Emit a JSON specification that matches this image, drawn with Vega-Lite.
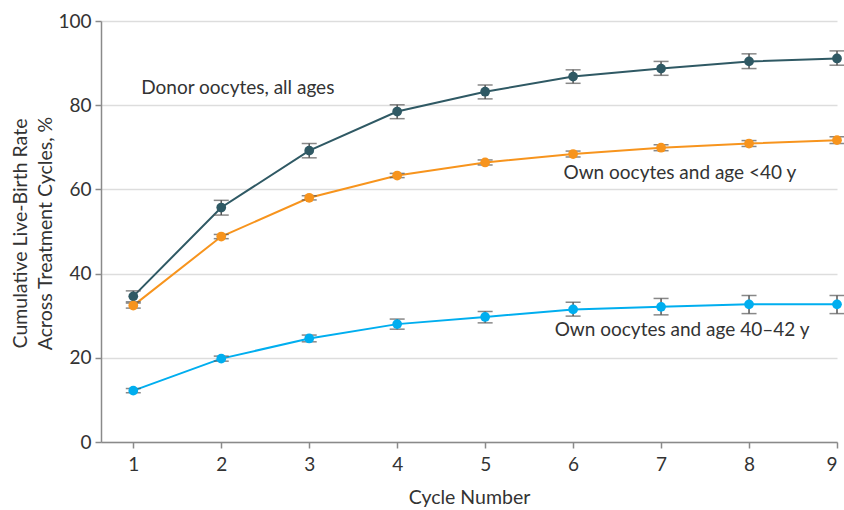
{
  "$schema": "https://vega.github.io/schema/vega-lite/v6.json",
  "autosize": "none",
  "width": 736,
  "height": 421,
  "padding": {"left": 101, "top": 21, "right": 7, "bottom": 68},
  "background": "white",
  "config": {
    "font": "Lato",
    "view": {"stroke": null},
    "axis": {
      "labelFont": "Lato", "titleFont": "Lato",
      "labelFontSize": 19, "titleFontSize": 19.5,
      "labelColor": "#333", "titleColor": "#333",
      "titleFontWeight": "normal",
      "domainColor": "#8a8a8a", "domainWidth": 1.5,
      "tickColor": "#8a8a8a", "tickWidth": 1.5, "tickSize": 6,
      "gridColor": "#dddddd", "gridWidth": 1.5
    }
  },
  "datasets": {
    "series": [
      {"group": "Donor", "cycle": 1, "rate": 34.6, "lo": 33.3, "hi": 35.9},
      {"group": "Donor", "cycle": 2, "rate": 55.7, "lo": 53.9, "hi": 57.4},
      {"group": "Donor", "cycle": 3, "rate": 69.2, "lo": 67.5, "hi": 70.9},
      {"group": "Donor", "cycle": 4, "rate": 78.5, "lo": 76.8, "hi": 80.1},
      {"group": "Donor", "cycle": 5, "rate": 83.2, "lo": 81.5, "hi": 84.8},
      {"group": "Donor", "cycle": 6, "rate": 86.8, "lo": 85.2, "hi": 88.4},
      {"group": "Donor", "cycle": 7, "rate": 88.7, "lo": 87.1, "hi": 90.4},
      {"group": "Donor", "cycle": 8, "rate": 90.4, "lo": 88.7, "hi": 92.2},
      {"group": "Donor", "cycle": 9, "rate": 91.1, "lo": 89.5, "hi": 92.9},
      {"group": "Own<40", "cycle": 1, "rate": 32.4, "lo": 31.8, "hi": 33.0},
      {"group": "Own<40", "cycle": 2, "rate": 48.8, "lo": 48.3, "hi": 49.3},
      {"group": "Own<40", "cycle": 3, "rate": 58.0, "lo": 57.5, "hi": 58.5},
      {"group": "Own<40", "cycle": 4, "rate": 63.3, "lo": 62.8, "hi": 63.8},
      {"group": "Own<40", "cycle": 5, "rate": 66.4, "lo": 65.8, "hi": 67.0},
      {"group": "Own<40", "cycle": 6, "rate": 68.4, "lo": 67.7, "hi": 69.1},
      {"group": "Own<40", "cycle": 7, "rate": 69.9, "lo": 69.2, "hi": 70.6},
      {"group": "Own<40", "cycle": 8, "rate": 70.9, "lo": 70.2, "hi": 71.6},
      {"group": "Own<40", "cycle": 9, "rate": 71.7, "lo": 70.9, "hi": 72.5},
      {"group": "Own40-42", "cycle": 1, "rate": 12.2, "lo": 11.7, "hi": 12.7},
      {"group": "Own40-42", "cycle": 2, "rate": 19.8, "lo": 19.2, "hi": 20.4},
      {"group": "Own40-42", "cycle": 3, "rate": 24.6, "lo": 23.8, "hi": 25.4},
      {"group": "Own40-42", "cycle": 4, "rate": 28.0, "lo": 26.8, "hi": 29.2},
      {"group": "Own40-42", "cycle": 5, "rate": 29.7, "lo": 28.3, "hi": 31.0},
      {"group": "Own40-42", "cycle": 6, "rate": 31.5, "lo": 29.9, "hi": 33.2},
      {"group": "Own40-42", "cycle": 7, "rate": 32.1, "lo": 30.2, "hi": 34.1},
      {"group": "Own40-42", "cycle": 8, "rate": 32.7, "lo": 30.5, "hi": 34.8},
      {"group": "Own40-42", "cycle": 9, "rate": 32.7, "lo": 30.5, "hi": 34.8}
    ],
    "labels": [
      {"cycle": 1.09, "rate": 84.0, "text": "Donor oocytes, all ages"},
      {"cycle": 5.89, "rate": 63.9, "text": "Own oocytes and age <40 y"},
      {"cycle": 5.79, "rate": 26.6, "text": "Own oocytes and age 40–42 y"}
    ]
  },
  "layer": [
    {
      "data": {"name": "series"},
      "mark": {"type": "line", "strokeWidth": 2},
      "encoding": {
        "x": {"field": "cycle", "type": "quantitative", "title": "Cycle Number",
              "scale": {"domain": [0.633, 9], "nice": false, "zero": false},
              "axis": {"values": [1,2,3,4,5,6,7,8,9], "format": "d", "grid": false, "titlePadding": 14, "labelPadding": 7}},
        "y": {"field": "rate", "type": "quantitative", "title": ["Cumulative Live-Birth Rate", "Across Treatment Cycles, %"],
              "scale": {"domain": [0, 100], "nice": false},
              "axis": {"values": [0,20,40,60,80,100],
                       "titleAngle": -90, "titleX": -90, "titleY": 212, "titleAlign": "center", "titleBaseline": "top", "titleLineHeight": 25, "labelPadding": 4}},
        "color": {"field": "group", "type": "nominal",
                  "scale": {"domain": ["Donor", "Own<40", "Own40-42"], "range": ["#2f5964", "#f7941d", "#00aeef"]},
                  "legend": null}
      }
    },
    {
      "data": {"name": "series"},
      "mark": {"type": "errorbar", "ticks": {"size": 15}, "color": "#555555", "thickness": 1.5},
      "encoding": {
        "x": {"field": "cycle", "type": "quantitative", "title": "Cycle Number"},
        "y": {"field": "lo", "type": "quantitative", "title": ["Cumulative Live-Birth Rate", "Across Treatment Cycles, %"]},
        "y2": {"field": "hi"}
      }
    },
    {
      "data": {"name": "series"},
      "mark": {"type": "point", "filled": true, "size": 95, "opacity": 1},
      "encoding": {
        "x": {"field": "cycle", "type": "quantitative", "title": "Cycle Number"},
        "y": {"field": "rate", "type": "quantitative", "title": ["Cumulative Live-Birth Rate", "Across Treatment Cycles, %"]},
        "color": {"field": "group", "type": "nominal", "legend": null}
      }
    },
    {
      "data": {"name": "labels"},
      "mark": {"type": "text", "align": "left", "baseline": "middle", "fontSize": 19, "color": "#333", "font": "Lato"},
      "encoding": {
        "x": {"field": "cycle", "type": "quantitative", "title": "Cycle Number"},
        "y": {"field": "rate", "type": "quantitative", "title": ["Cumulative Live-Birth Rate", "Across Treatment Cycles, %"]},
        "text": {"field": "text"}
      }
    }
  ]
}
